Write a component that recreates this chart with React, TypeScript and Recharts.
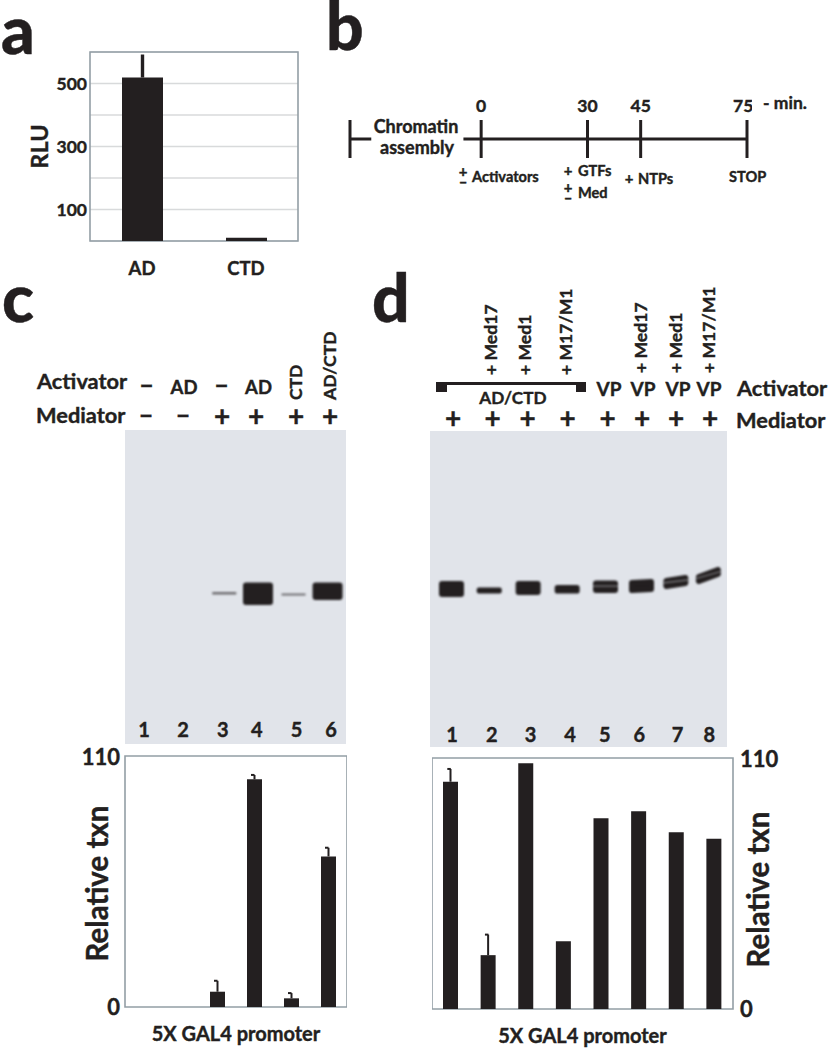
import {
  Bar,
  BarChart,
  CartesianGrid,
  ComposedChart,
  ErrorBar,
  Line,
  LineChart,
  ReferenceArea,
  ReferenceLine,
  XAxis,
  YAxis,
} from "recharts";

const FONT = "Lato, 'Open Sans', sans-serif";
const INK = "#231f20";
const FRAME = "#939ea5";
const GRID = "#d8dadb";
const GEL = "#e1e4ea";

// panel a
const rluLabels = ["AD", "CTD"];
const rluValues = [519, 10];
const rluErrors = [73, 0];
const rluTicks = [0, 100, 200, 300, 400, 500, 600];
const rluLabelled = [100, 300, 500];

// panel b
const timelineTimes = [-37, -31, -18, -5, 0, 30, 45, 75];
const timelineLevels = [1, 1, null, 1, 1, 1, 1, 1];
const timelineEvents = [-37, 0, 30, 45, 75];
const timelineTicks = [0, 30, 45, 75];

// panel c
const laneLabelsC = ["1", "2", "3", "4", "5", "6"];
const txnValuesC = [0, 0, 6.7, 99.8, 3.8, 66];
const txnErrorsC = [0, 0, 4.8, 1.9, 2.3, 3.8];
const bandTopC = [null, null, 162, 152.5, 163.5, 152.5];
const bandBottomC = [null, null, 164.5, 175, 165.5, 170];
const bandNudgeC = [0, 0, 7.6, 4.5, 3.2, 0.4];
const numberNudgeC = [0.6, 2.7, 5.6, 3, 5.9, 3.4];

// panel d
const laneLabelsD = ["1", "2", "3", "4", "5", "6", "7", "8"];
const txnValuesD = [99.6, 23.6, 107.7, 29.7, 83.6, 86.7, 77.5, 74.6];
const txnErrorsD = [5.6, 9, 0, 0, 0, 0, 0, 0];
const bandTopD = [150, 156.5, 150, 154, 149.5, 148, 144, 136];
const bandBottomD = [166, 162.5, 164, 162.5, 162, 161, 155, 146];
const bandTiltD = [0, 0, 0, 0, 0, 1, 3, 7];
const bandDoubletD = [false, false, false, false, true, false, true, true];
const bandNudgeD = [3, 3.6, 5.4, 7.3, 8.5, 7.4, 4.6, 0];
const numberNudgeD = [3.4, 6, 7.8, 10, 7.8, 5, 6.3, 0.8];

const rluData = rluLabels.map((name, i) => ({
  name,
  value: rluValues[i],
  err: [0, rluErrors[i]],
}));

const timelineData = timelineTimes.map((time, i) => ({
  time,
  level: timelineLevels[i],
}));

const txnTable = (labels: string[], values: number[], errors: number[]) =>
  labels.map((name, i) => ({
    name,
    value: values[i],
    err: [0, errors[i]],
    errTop: errors[i] ? values[i] + errors[i] : null,
  }));

const gelC = laneLabelsC.map((name, i) => ({
  name,
  band: bandTopC[i] === null ? null : [bandTopC[i], bandBottomC[i]],
  tilt: 0,
  doublet: false,
  nudge: bandNudgeC[i],
}));

const gelD = laneLabelsD.map((name, i) => ({
  name,
  band: [bandTopD[i], bandBottomD[i]],
  tilt: bandTiltD[i],
  doublet: bandDoubletD[i],
  nudge: bandNudgeD[i],
}));

// thin outline thickens Lato to the weight of the figure's type
const boldText = { fontFamily: FONT, fontWeight: 700, fill: INK, stroke: INK, strokeWidth: 0.4 };

// error bars in the figure only have the left half of the cap
const HalfCap = (props: any) => {
  const { cx, cy } = props;
  if (cy === null || cy === undefined) return <g />;
  return <path d={`M${cx - 3.5} ${cy}H${cx}`} stroke={INK} strokeWidth={2} fill="none" />;
};

const GelBand = (props: any) => {
  const { x, y, width, height, payload } = props;
  if (!payload.band) return <g />;
  const top = Math.min(y, y + height);
  const h = Math.abs(height);
  const thin = h < 3;
  const w = thin ? width * 0.8 : width;
  const left = x + (width - w) / 2 + payload.nudge;
  const t = payload.tilt;
  // a fat round-joined stroke gives the soft, blobby edge of a film band
  const pad = thin ? 0 : Math.min(3, h / 3);
  return (
    <g style={{ filter: "blur(0.8px)" }} opacity={thin ? 0.6 : 1}>
      <path
        d={`M${left + pad} ${top + t + pad}L${left + w - pad} ${top + pad}V${top + h - pad}L${left + pad} ${top + h + t - pad}Z`}
        fill={INK}
        stroke={INK}
        strokeWidth={pad * 2}
        strokeLinejoin="round"
      />
      {payload.doublet && (
        <path
          d={`M${left} ${top + t + h * 0.45}L${left + w} ${top + h * 0.45}`}
          stroke={GEL}
          strokeWidth={1.2}
          opacity={0.5}
        />
      )}
    </g>
  );
};

const GelChart = ({ data, nudge, left, top, width, height, barSize, textY }: any) => (
  <div style={{ position: "absolute", left, top }}>
    <BarChart
      width={width}
      height={height}
      data={data}
      margin={{ top: 0, right: 0, bottom: 0, left: 0 }}
      style={{ background: GEL }}
    >
      <XAxis
        dataKey="name"
        height={30}
        axisLine={false}
        tickLine={false}
        interval={0}
        tick={(p: any) => (
          <text
            x={p.x + nudge[p.index]}
            y={p.y + textY}
            textAnchor="middle"
            fontSize={20}
            {...boldText}
          >
            {p.payload.value}
          </text>
        )}
      />
      <YAxis hide reversed domain={[0, height - 30]} />
      <Bar dataKey="band" barSize={barSize} shape={GelBand} isAnimationActive={false} />
    </BarChart>
  </div>
);

const TxnChart = ({ data, left, top, width, side }: any) => (
  <div style={{ position: "absolute", left, top }}>
    <ComposedChart
      width={width}
      height={305}
      data={data}
      barCategoryGap="10%"
      margin={{ top: 12, right: 0, bottom: 0, left: 0 }}
    >
      <XAxis
        dataKey="name"
        height={42}
        axisLine={false}
        tickLine={false}
        tick={false}
        label={{
          value: "5X GAL4 promoter",
          position: "insideBottom",
          offset: 8,
          style: { ...boldText, fontSize: 20 },
        }}
      />
      <YAxis
        orientation={side}
        width={side === "right" ? 94 : 125}
        domain={[0, 110]}
        ticks={[0, 110]}
        axisLine={false}
        tickLine={false}
        tickSize={0}
        tickMargin={side === "right" ? 7 : 5}
        tick={{ ...boldText, fontSize: 22 }}
        label={{
          value: "Relative txn",
          angle: -90,
          position: "center",
          dx: side === "right" ? -21 : 35,
          dy: side === "right" ? 6 : 2,
          style: { ...boldText, fontSize: 29.5 },
        }}
      />
      <ReferenceArea y1={0} y2={110} fill="none" stroke={FRAME} strokeWidth={1.6} ifOverflow="visible" />
      <Bar dataKey="value" fill={INK} barSize={15} isAnimationActive={false}>
        <ErrorBar dataKey="err" width={0} stroke={INK} strokeWidth={2} />
      </Bar>
      <Line
        dataKey="errTop"
        stroke="none"
        dot={(p: any) => <HalfCap key={p.index} {...p} />}
        activeDot={false}
        legendType="none"
        isAnimationActive={false}
      />
    </ComposedChart>
  </div>
);

type Note = { t: string; x: number; y: number; s: number; a?: string; r?: boolean; w?: number };

const notes: Note[] = [
  // panel letters
  { t: "a", x: 1, y: 54, s: 66, w: 900 },
  { t: "b", x: 326, y: 50, s: 66, w: 900 },
  { t: "c", x: 2, y: 322, s: 66, w: 900 },
  { t: "d", x: 372, y: 322, s: 66, w: 900 },
  // panel b
  { t: "- min.", x: 763, y: 109, s: 17.5 },
  { t: "Chromatin", x: 416, y: 133, s: 18, a: "middle" },
  { t: "assembly", x: 417, y: 154, s: 18, a: "middle" },
  { t: "+", x: 463, y: 176.5, s: 15, a: "middle" },
  { t: "–", x: 463, y: 187, s: 15, a: "middle" },
  { t: "Activators", x: 472, y: 182, s: 14.6 },
  { t: "+", x: 568, y: 175.5, s: 15, a: "middle" },
  { t: "GTFs", x: 578, y: 176, s: 14.6 },
  { t: "+", x: 568, y: 193, s: 15, a: "middle" },
  { t: "–", x: 568, y: 203, s: 15, a: "middle" },
  { t: "Med", x: 578, y: 198, s: 14.6 },
  { t: "+", x: 629, y: 184, s: 15, a: "middle" },
  { t: "NTPs", x: 638, y: 184, s: 14.6 },
  { t: "STOP", x: 729, y: 182, s: 14.6 },
  // panel c header
  { t: "Activator", x: 37, y: 389, s: 21.8 },
  { t: "Mediator", x: 36, y: 423, s: 21.8 },
  { t: "–", x: 146.5, y: 394, s: 26, a: "middle" },
  { t: "AD", x: 184, y: 394, s: 18.5, a: "middle" },
  { t: "–", x: 221.5, y: 394, s: 26, a: "middle" },
  { t: "AD", x: 258.5, y: 394, s: 18.5, a: "middle" },
  { t: "CTD", x: 302, y: 400, s: 17.5, r: true },
  { t: "AD/CTD", x: 336, y: 400, s: 17.5, r: true },
  { t: "–", x: 146, y: 424, s: 26, a: "middle" },
  { t: "–", x: 183, y: 424, s: 26, a: "middle" },
  { t: "+", x: 222, y: 426, s: 28, a: "middle" },
  { t: "+", x: 256, y: 426, s: 28, a: "middle" },
  { t: "+", x: 296, y: 426, s: 28, a: "middle" },
  { t: "+", x: 330, y: 426, s: 28, a: "middle" },
  // panel d header
  { t: "+ Med17", x: 497, y: 375, s: 17.6, r: true },
  { t: "+ Med1", x: 531, y: 375, s: 17.6, r: true },
  { t: "+ M17/M1", x: 571.5, y: 375, s: 17.6, r: true },
  { t: "+ Med17", x: 646.5, y: 373, s: 17.6, r: true },
  { t: "+ Med1", x: 681.5, y: 373, s: 17.6, r: true },
  { t: "+ M17/M1", x: 715, y: 373, s: 17.6, r: true },
  { t: "AD/CTD", x: 513, y: 404, s: 17.2, a: "middle" },
  { t: "VP", x: 609, y: 396, s: 19, a: "middle" },
  { t: "VP", x: 643, y: 396, s: 19, a: "middle" },
  { t: "VP", x: 678, y: 396, s: 19, a: "middle" },
  { t: "VP", x: 709, y: 396, s: 19, a: "middle" },
  { t: "Activator", x: 737, y: 396, s: 21.8 },
  { t: "Mediator", x: 736, y: 428, s: 21.8 },
  { t: "+", x: 453, y: 428, s: 28, a: "middle" },
  { t: "+", x: 492.5, y: 428, s: 28, a: "middle" },
  { t: "+", x: 527.5, y: 428, s: 28, a: "middle" },
  { t: "+", x: 567.5, y: 428, s: 28, a: "middle" },
  { t: "+", x: 607.5, y: 428, s: 28, a: "middle" },
  { t: "+", x: 642, y: 428, s: 28, a: "middle" },
  { t: "+", x: 676, y: 428, s: 28, a: "middle" },
  { t: "+", x: 710, y: 428, s: 28, a: "middle" },
];

const Annotations = () => (
  <svg
    width={828}
    height={1050}
    style={{ position: "absolute", left: 0, top: 0, pointerEvents: "none" }}
  >
    {notes.map((n, i) => (
      <text
        key={i}
        x={n.x}
        y={n.y}
        fontSize={n.s}
        textAnchor={n.a ?? "start"}
        transform={n.r ? `rotate(-90 ${n.x} ${n.y})` : undefined}
        {...boldText}
        fontWeight={n.w ?? 700}
      >
        {n.t}
      </text>
    ))}
    {/* AD/CTD bracket */}
    <path d="M436 383.5H586" stroke={INK} strokeWidth={3} />
    <rect x={436} y={382} width={11} height={10} fill={INK} />
    <rect x={576} y={382} width={10} height={10} fill={INK} />
  </svg>
);

export default function App() {
  return (
    <div style={{ position: "absolute", left: 0, top: 0, width: 828, height: 1050, background: "#fff" }}>
      {/* a */}
      <div style={{ position: "absolute", left: 0, top: 40 }}>
        <BarChart
          width={320}
          height={243}
          data={rluData}
          barCategoryGap="10%"
          margin={{ top: 12, right: 22, bottom: 0, left: 0 }}
        >
          <CartesianGrid vertical={false} stroke={GRID} strokeWidth={1.5} />
          <XAxis
            dataKey="name"
            height={42}
            axisLine={false}
            tickLine={false}
            tickMargin={15}
            tick={{ ...boldText, fontSize: 18.5 }}
          />
          <YAxis
            width={90}
            domain={[0, 600]}
            ticks={rluTicks}
            axisLine={false}
            tickLine={false}
            tickSize={0}
            tickMargin={3}
            tickFormatter={(v: number) => (rluLabelled.includes(v) ? String(v) : "")}
            tick={{ ...boldText, fontSize: 17.5 }}
            label={{
              value: "RLU",
              angle: -90,
              position: "center",
              dx: -5,
              style: { ...boldText, fontSize: 23.5 },
            }}
          />
          <ReferenceArea y1={0} y2={600} fill="none" stroke={FRAME} strokeWidth={1.6} ifOverflow="visible" />
          <Bar dataKey="value" fill={INK} barSize={41} isAnimationActive={false}>
            <ErrorBar dataKey="err" width={0} stroke={INK} strokeWidth={3.4} />
          </Bar>
        </BarChart>
      </div>

      {/* b */}
      <div style={{ position: "absolute", left: 345, top: 90 }}>
        <LineChart
          width={407}
          height={68}
          data={timelineData}
          margin={{ top: 0, right: 5, bottom: 0, left: 5 }}
        >
          <XAxis
            dataKey="time"
            type="number"
            orientation="top"
            height={30}
            domain={[-37, 75]}
            ticks={timelineTicks}
            axisLine={false}
            tickLine={false}
            tickMargin={2}
            tick={{ ...boldText, fontSize: 17.5 }}
          />
          <YAxis hide domain={[0, 2]} />
          {timelineEvents.map((t) => (
            <ReferenceLine key={t} x={t} stroke={INK} strokeWidth={3} ifOverflow="visible" />
          ))}
          <Line dataKey="level" stroke={INK} strokeWidth={3} dot={false} isAnimationActive={false} />
        </LineChart>
      </div>

      {/* c */}
      <GelChart data={gelC} nudge={numberNudgeC} left={125} top={430} width={221} height={314} barSize={30} textY={15} />
      <TxnChart data={txnTable(laneLabelsC, txnValuesC, txnErrorsC)} left={0} top={744} width={347} side="left" />

      {/* d */}
      <GelChart data={gelD} nudge={numberNudgeD} left={430} top={431} width={297} height={316} barSize={25} textY={17} />
      <TxnChart data={txnTable(laneLabelsD, txnValuesD, txnErrorsD)} left={432} top={746} width={395} side="right" />

      <Annotations />
    </div>
  );
}
